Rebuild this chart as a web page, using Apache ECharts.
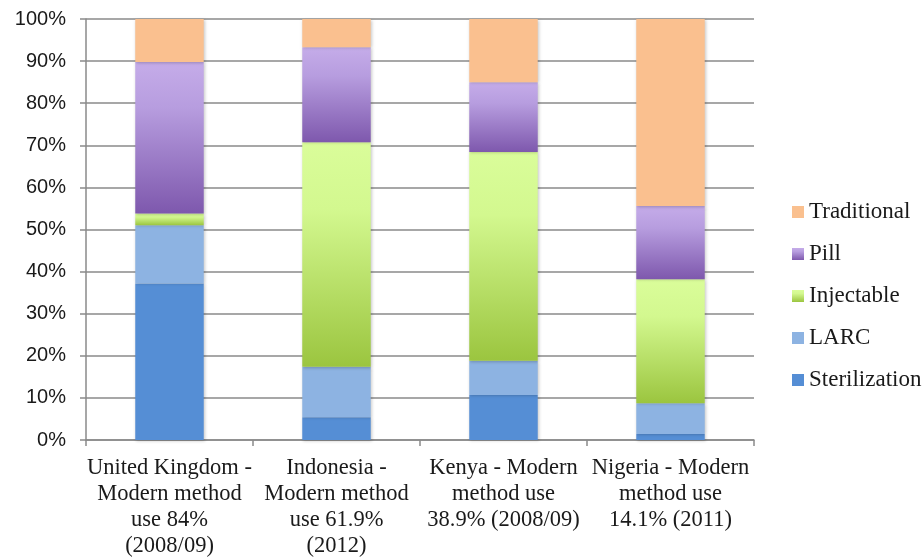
<!DOCTYPE html>
<html>
<head>
<meta charset="utf-8">
<script src="https://cdn.jsdelivr.net/npm/echarts@6/dist/echarts.min.js"></script>
<style>
  html, body { margin: 0; padding: 0; background: #fff; }
  #chart { width: 922px; height: 557px; }
</style>
</head>
<body>
<div id="chart"></div>
<script>
// Method mix of contraceptive users, share of total (%)
const categories = [
  'United Kingdom -\nModern method\nuse 84%\n(2008/09)',
  'Indonesia -\nModern method\nuse 61.9%\n(2012)',
  'Kenya - Modern\nmethod use\n38.9% (2008/09)',
  'Nigeria - Modern\nmethod use\n14.1% (2011)'
];
const sterilization = [37.2, 5.4, 10.7, 1.4];
const larc = [13.8, 12.0, 8.1, 7.3];
const injectable = [2.8, 53.3, 49.6, 29.5];
const pill = [36.0, 22.6, 16.6, 17.4];
const traditional = [10.2, 6.7, 15.0, 44.4];
const legendOrder = ['Traditional', 'Pill', 'Injectable', 'LARC', 'Sterilization'];

const serif = '"Liberation Serif", serif';
const sans = '"Liberation Sans", sans-serif';
const axisGray = '#8a8a8a';

function vGrad(top, mid, bottom) {
  return new echarts.graphic.LinearGradient(0, 0, 0, 1, [
    { offset: 0, color: top },
    { offset: 0.3, color: mid },
    { offset: 1, color: bottom }
  ]);
}

const shadow = {
  shadowBlur: 3,
  shadowColor: 'rgba(0,0,0,0.22)',
  shadowOffsetX: 1,
  shadowOffsetY: 1
};

function bar(name, data, color) {
  return {
    name: name,
    type: 'bar',
    stack: 'total',
    barWidth: '41%',
    data: data,
    itemStyle: Object.assign({ color: color }, shadow)
  };
}

const chart = echarts.init(document.getElementById('chart'), null, { renderer: 'canvas' });
chart.setOption({
  animation: false,
  backgroundColor: '#ffffff',
  grid: {
    left: 86, right: 168, top: 19, bottom: 117,
    containLabel: false,
    outerBoundsMode: 'none'
  },
  legend: {
    data: legendOrder,
    orient: 'vertical',
    left: 787,
    top: 195,
    itemWidth: 12,
    itemHeight: 12,
    itemGap: 18,
    icon: 'rect',
    textStyle: { fontFamily: serif, fontSize: 23, color: '#1a1a1a', lineHeight: 24 }
  },
  xAxis: {
    type: 'category',
    data: categories,
    axisLine: { lineStyle: { color: axisGray, width: 1.5 } },
    axisTick: { show: true, length: 6, lineStyle: { color: axisGray, width: 1.5 } },
    axisLabel: {
      interval: 0,
      margin: 15,
      fontFamily: serif,
      fontSize: 22.5,
      lineHeight: 26,
      color: '#1a1a1a'
    }
  },
  yAxis: {
    type: 'value',
    min: 0,
    max: 100,
    interval: 10,
    axisLine: { show: true, lineStyle: { color: axisGray, width: 1.5 } },
    axisTick: { show: true, length: 6, lineStyle: { color: axisGray, width: 1.5 } },
    splitLine: { lineStyle: { color: axisGray, width: 1.5 } },
    axisLabel: {
      formatter: '{value}%',
      margin: 20,
      fontFamily: sans,
      fontSize: 20,
      color: '#1a1a1a'
    }
  },
  series: [
    bar('Sterilization', sterilization, '#558ed5'),
    bar('LARC', larc, '#8db3e2'),
    bar('Injectable', injectable, vGrad('#dafd9a', '#d3f88f', '#9bc53f')),
    bar('Pill', pill, vGrad('#c5ace9', '#b79ddf', '#7e58ad')),
    bar('Traditional', traditional, '#fac08f')
  ]
});
</script>
</body>
</html>
